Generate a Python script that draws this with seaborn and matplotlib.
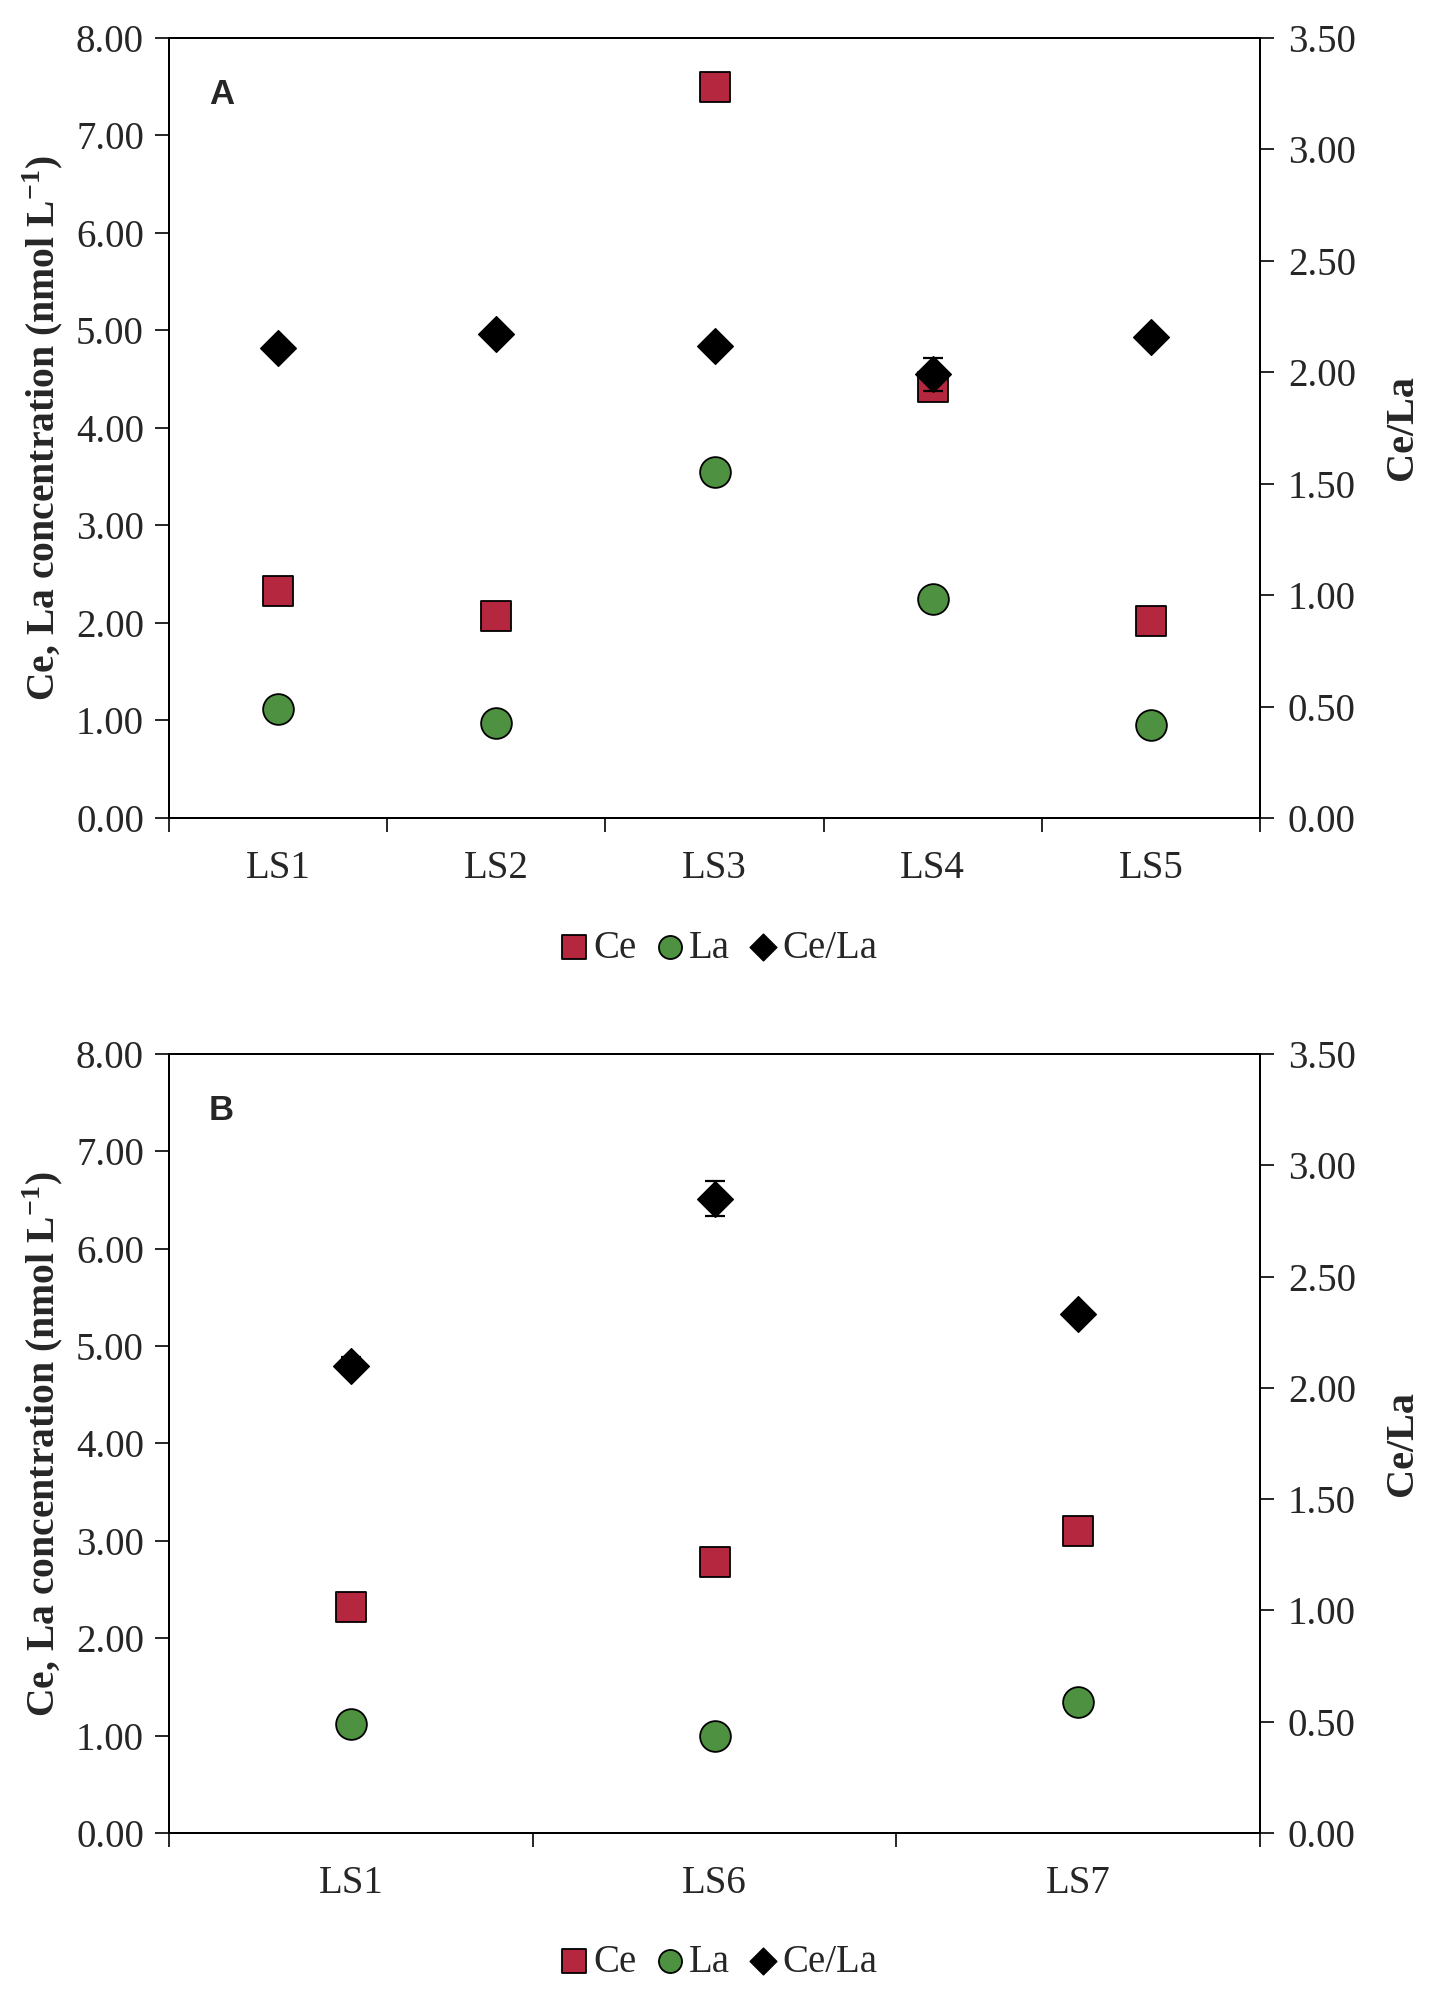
import numpy as np
import matplotlib
matplotlib.use("Agg")
import matplotlib.pyplot as plt
import seaborn as sns

# ---------------- data ----------------
sites_a = ["LS1", "LS2", "LS3", "LS4", "LS5"]
ce_a = [2.33, 2.07, 7.50, 4.42, 2.02]
la_a = [1.12, 0.97, 3.55, 2.25, 0.95]
ratio_a = [2.11, 2.17, 2.12, 1.99, 2.16]
ratio_err_a = [0.03, 0.02, 0.02, 0.075, 0.02]

sites_b = ["LS1", "LS6", "LS7"]
ce_b = [2.32, 2.78, 3.10]
la_b = [1.12, 1.00, 1.35]
ratio_b = [2.10, 2.85, 2.33]
ratio_err_b = [0.04, 0.08, 0.03]

left_ticks = [0, 1, 2, 3, 4, 5, 6, 7, 8]
right_ticks = [0, 0.5, 1.0, 1.5, 2.0, 2.5, 3.0, 3.5]

CE_COLOR = "#b5263f"
LA_COLOR = "#4e9140"

sns.set_style("ticks")
plt.rcParams['font.family'] = ['Liberation Serif', 'DejaVu Serif']
plt.rcParams['mathtext.fontset'] = 'stix'


def draw_panel(fig, rect, sites, ce, la, ratio, err, letter, legend_y):
    ax = fig.add_axes(rect)
    ax2 = ax.twinx()

    sns.scatterplot(x=sites, y=ce, marker="s", s=490, color=CE_COLOR,
                    edgecolor="black", linewidth=1.3, label="Ce", ax=ax, zorder=3)
    sns.scatterplot(x=sites, y=la, marker="o", s=490, color=LA_COLOR,
                    edgecolor="black", linewidth=1.3, label="La", ax=ax, zorder=3)
    ax2.errorbar(sites, ratio, yerr=err, fmt="none", ecolor="black",
                 elinewidth=1.6, capsize=7, capthick=1.6, zorder=2)
    sns.scatterplot(x=sites, y=ratio, marker="D", s=330, color="black",
                    edgecolor="black", linewidth=1.0, label="Ce/La", ax=ax2, zorder=3)

    n = len(sites)
    for a in (ax, ax2):
        a.set_xlim(-0.5, n - 0.5)
        leg = a.get_legend()
        if leg is not None:
            leg.remove()
        for sp in a.spines.values():
            sp.set_visible(True)
            sp.set_linewidth(1.4)
            sp.set_color("black")

    ax.set_ylim(0, 8)
    ax.set_yticks(left_ticks)
    ax.set_yticklabels([f"{v:.2f}" for v in left_ticks])
    ax2.set_ylim(0, 3.5)
    ax2.set_yticks(right_ticks)
    ax2.set_yticklabels([f"{v:.2f}" for v in right_ticks])

    ax.set_xticks(range(n))
    ax.set_xticklabels(sites)
    ax.set_xticks(np.arange(-0.5, n, 1.0), minor=True)
    ax.tick_params(axis="x", which="major", length=0, pad=23, labelsize=28)
    ax.tick_params(axis="x", which="minor", length=10, width=1.4, direction="out")
    ax.tick_params(axis="y", length=10, width=1.4, direction="out", pad=8, labelsize=28)
    ax2.tick_params(axis="y", length=10, width=1.4, direction="out", pad=10, labelsize=28)

    ax.set_xlabel("")
    ax.set_ylabel("Ce, La concentration (nmol L$^{\\mathregular{-1}}$)", fontsize=28.5,
                  fontweight="bold", labelpad=8)
    ax2.set_ylabel("Ce/La", fontsize=29, fontweight="bold", labelpad=20)

    ax.text(0.048, 0.927, letter, transform=ax.transAxes, fontsize=25,
            fontweight="bold", family=["Liberation Sans", "DejaVu Sans"],
            ha="center", va="center")

    h1, l1 = ax.get_legend_handles_labels()
    h2, l2 = ax2.get_legend_handles_labels()
    fig.legend(h1 + h2, l1 + l2, loc="center", bbox_to_anchor=(0.502, legend_y),
               ncol=3, frameon=False, fontsize=28, handlelength=0.7,
               handletextpad=0.15, columnspacing=0.5, markerscale=0.75,
               borderaxespad=0)
    return ax, ax2


fig = plt.figure(figsize=(14.32, 19.98), dpi=100)
draw_panel(fig, [0.118, 0.5906, 0.762, 0.3904], sites_a, ce_a, la_a,
           ratio_a, ratio_err_a, "A", 0.5255)
draw_panel(fig, [0.118, 0.0826, 0.762, 0.3899], sites_b, ce_b, la_b,
           ratio_b, ratio_err_b, "B", 0.018)

fig.savefig("out.png", dpi=100, facecolor="white")
